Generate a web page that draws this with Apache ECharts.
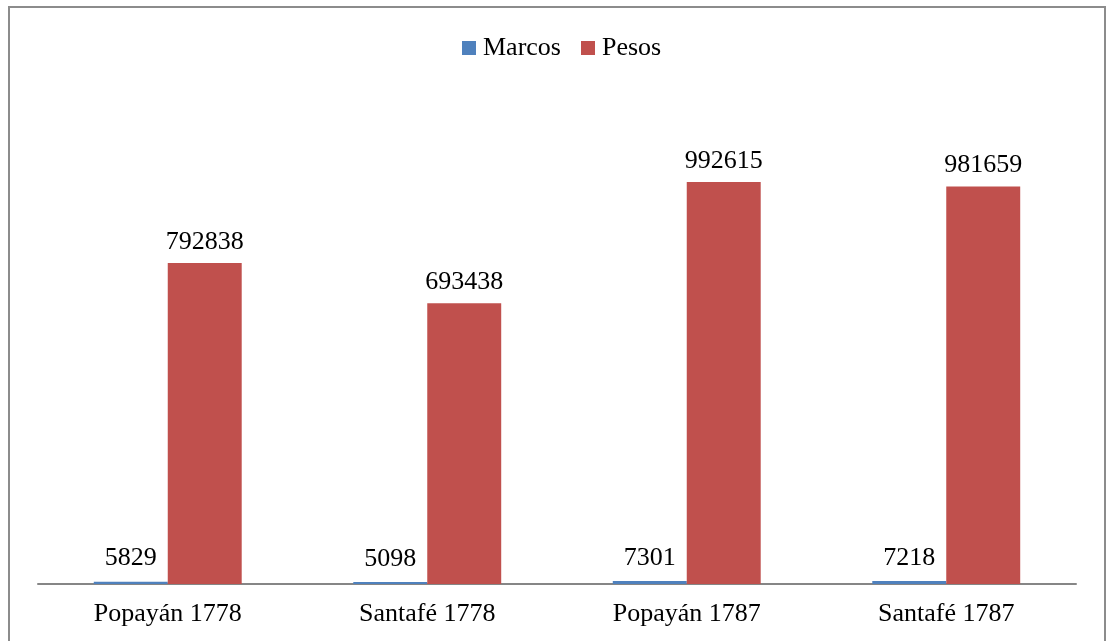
<!DOCTYPE html>
<html><head><meta charset="utf-8">
<script src="https://cdn.jsdelivr.net/npm/echarts@6/dist/echarts.min.js"></script>
<style>html,body{margin:0;padding:0;background:#fff}#c{width:1106px;height:641px}</style>
</head><body><div id="c"></div>
<script>
const categories = ['Popayán 1778', 'Santafé 1778', 'Popayán 1787', 'Santafé 1787'];
const marcos = [5829, 5098, 7301, 7218];
const pesos = [792838, 693438, 992615, 981659];
const seriesNames = ['Marcos', 'Pesos'];

const font = 'Liberation Serif, Times New Roman, serif';
const chart = echarts.init(document.getElementById('c'), null, {renderer: 'canvas'});
chart.setOption({
  animation: false,
  backgroundColor: '#fff',
  graphic: [{
    type: 'rect', silent: true,
    shape: {x: 9, y: 7, width: 1096, height: 700},
    style: {fill: 'none', stroke: '#8c8c8c', lineWidth: 2}
  }],
  legend: {
    top: 30, left: 457, itemWidth: 14, itemHeight: 14, itemGap: 20,
    icon: 'rect',
    textStyle: {fontFamily: font, fontSize: 26, color: '#000', padding: [0,0,0,2]},
    data: seriesNames
  },
  grid: {left: 38, right: 30, top: 98, bottom: 57},
  xAxis: {
    type: 'category', data: categories,
    axisLine: {lineStyle: {color: '#868686', width: 2}},
    axisTick: {show: false},
    axisLabel: {fontFamily: font, fontSize: 26, color: '#000', margin: 17}
  },
  yAxis: {
    type: 'value', min: 0, max: 1200000, show: false,
    splitLine: {show: false}
  },
  series: [
    {name: seriesNames[0], type: 'bar', data: marcos, barWidth: '28.5%', barGap: '0%',
     itemStyle: {color: '#4f81bd'},
     label: {show: true, position: 'top', distance: 10, fontFamily: font, fontSize: 26, color: '#000'}},
    {name: seriesNames[1], type: 'bar', data: pesos, barWidth: '28.5%', barGap: '0%',
     itemStyle: {color: '#c0504d'},
     label: {show: true, position: 'top', distance: 8, fontFamily: font, fontSize: 26, color: '#000'}}
  ]
});
</script></body></html>
